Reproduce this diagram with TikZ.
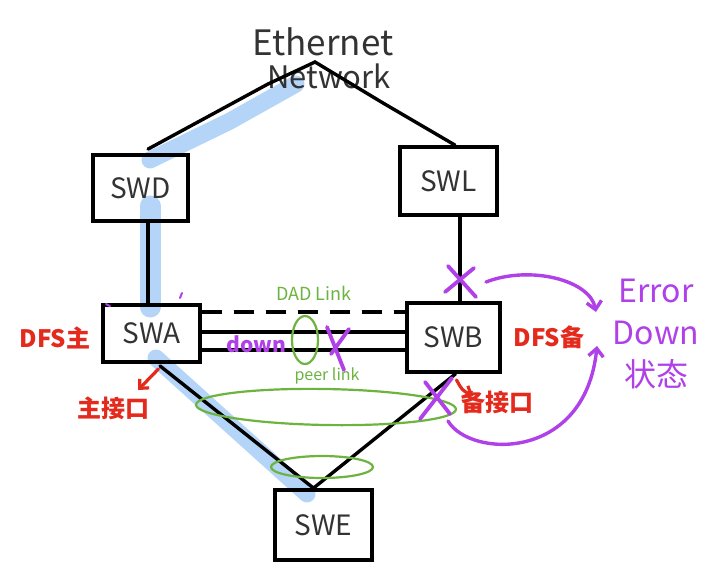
\documentclass[tikz,border=0pt]{standalone}
\usepackage{fontspec}
\setmainfont{Noto Sans CJK SC}
\usetikzlibrary{calc,arrows.meta}
\definecolor{hl}{HTML}{B4D4F8}
\definecolor{grn}{HTML}{6DB33F}
\definecolor{pur}{HTML}{B040E8}
\definecolor{rd}{HTML}{E32A1C}
\definecolor{ink}{HTML}{333333}
\begin{document}
\begin{tikzpicture}[x=1pt,y=-1pt,
  swbox/.style={draw=black,line width=3.8pt,inner sep=0pt,text=ink,font=\fontsize{28}{28}\selectfont},
  link/.style={draw=black,line width=3.4pt,line cap=round},
  hilite/.style={draw=hl,line width=17pt,line cap=round,line join=round},
  grnlbl/.style={text=grn,font=\fontsize{16}{16}\selectfont},
  grnring/.style={draw=grn,line width=2.2pt},
  purstroke/.style={draw=pur,line width=3.8pt,line cap=round},
  purarrow/.style={draw=pur,line width=3.4pt,line cap=round,-{Straight Barb[length=8pt,width=15pt,line width=3.4pt]}},
  redarrow/.style={draw=rd,line width=3.2pt,line cap=round,-{Straight Barb[length=7pt,width=13pt,line width=3.2pt]}},
  redlbl/.style={text=rd,font=\fontsize{24}{24}\selectfont\bfseries},
  purlbl/.style={text=pur,font=\fontsize{32}{42}\selectfont}]
\useasboundingbox (0,0) rectangle (722,571);
\fill[white] (0,0) rectangle (722,571);

% highlight (drawn first, under everything)
\draw[hilite] (150,160) -- (230,121) -- (296,84);
\draw[hilite,line width=21pt] (150,206) -- (150,307);
\draw[hilite] (156,358) -- (307,494);

% boxes
\node[swbox,minimum width=95pt,minimum height=66pt] (swd) at (140.5,188) {SWD};
\node[swbox,minimum width=97pt,minimum height=68pt] (swl) at (448.5,181) {SWL};
\node[swbox,minimum width=97pt,minimum height=57pt] (swa) at (151.5,333.5) {SWA};
\node[swbox,minimum width=93pt,minimum height=69pt] (swb) at (453.5,337.5) {SWB};
\node[swbox,minimum width=97pt,minimum height=70pt] (swe) at (323.5,525) {SWE};

% Ethernet network
\node[text=ink,font=\fontsize{35}{35}\selectfont] (eth) at (323,42) {Ethernet};
\node[text=ink,font=\fontsize{31}{31}\selectfont] (net) at (329,76) {Network};
\coordinate (peak) at (315,62);
\coordinate (c1) at (268,84);
\coordinate (c2) at (383,103);
\draw[link] ($(swd.north)+(7.5,-4)$) -- (c1) -- (peak) -- (c2) -- ($(swl.north)+(6.5,0)$);

% vertical uplinks
\draw[link] ($(swd.south)+(7.5,0)$) -- ($(swa.north)+(-3.5,0)$);
\draw[link] ($(swl.south)+(11.5,0)$) -- ($(swb.north)+(6.5,0)$);

% SWA - SWB links
\draw[link,line cap=butt,dash pattern=on 20pt off 12pt] ($(swa.east)+(0,-21.5)$) -- ($(swb.west)+(0,-25.5)$);
\draw[link] ($(swa.east)+(0,-1.5)$) -- ($(swb.west)+(0,-5.5)$);
\draw[link] ($(swa.east)+(0,16.5)$) -- ($(swb.west)+(0,12.5)$);

% downlinks to SWE
\draw[link] ($(swa.south)+(8.5,2)$) -- ($(swe.north)+(-10,0)$);
\draw[link] ($(swb.south)+(2,0)$) -- ($(swe.north)+(-10,0)$);

% green labels and rings
\node[grnlbl,font=\fontsize{18}{18}\selectfont] (dad) at (314,293) {DAD Link};
\node[grnlbl] (peer) at (327,376) {peer link};
\draw[grnring] (305,340) ellipse [x radius=13pt,y radius=24pt];
\draw[grnring,rotate around={-1:(326,407)}] (326,407) ellipse [x radius=130pt,y radius=18pt];
\draw[grnring] (322,467) ellipse [x radius=51pt,y radius=11pt];

% purple marks
\node[text=pur,font=\fontsize{21}{21}\selectfont\bfseries] (down) at (256,344) {down};
\draw[purstroke] (327,327) -- (344,370);
\draw[purstroke] (349,329) -- (331,354);
\draw[purstroke] (448,266) -- (476,297);
\draw[purstroke] (445,292) -- (474,268);
\draw[purstroke] (425,382) -- (450,414);
\draw[purstroke] (420,419) -- (452,378);
\draw[pur,line width=2pt,line cap=round] (106,304) -- (110,306);
\draw[pur,line width=2pt,line cap=round] (180,298) -- (182,293);

% Error Down label and arrows
\node[purlbl,align=center] (err) at (656,334) {Error\\Down\\状态};
\coordinate (x1end) at (486,282);
\coordinate (x2end) at (448,421);
\draw[purarrow] (x1end) .. controls (530,265) and (590,280) .. (596,312);
\draw[purarrow] (x2end) .. controls (470,458) and (585,462) .. (597,346);

% red labels and arrows
\node[redlbl] (dfsm) at (55,338) {DFS主};
\node[redlbl] (dfsb) at (549,337) {DFS备};
\node[redlbl] (zjk) at (113,408) {主接口};
\node[redlbl] (bjk) at (497,402) {备接口};
\draw[redarrow] ($(swa.south)+(7,5)$) -- (138,390);
\draw[redarrow] ($(swb.south)+(3,6)$) .. controls (462,390) .. (473,396);
\end{tikzpicture}
\end{document}
